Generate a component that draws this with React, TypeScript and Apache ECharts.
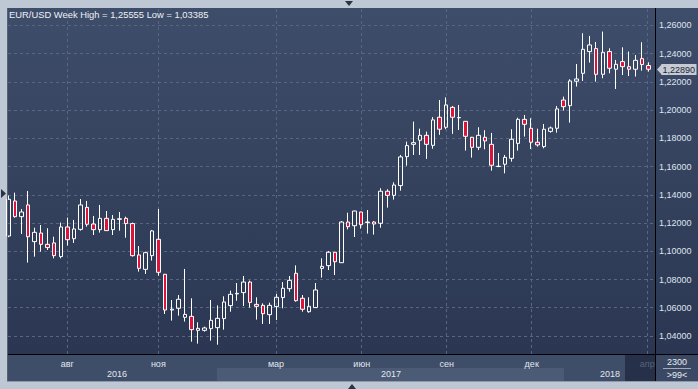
import React, { useEffect, useRef } from "react";
import * as echarts from "echarts";

const W = 698;
const H = 389;

// Weekly EUR/USD candles (index 0 = first, partly hidden week)
const opens = [
  1.1108, 1.1356, 1.1245, 1.1328, 1.1068, 1.1129, 1.1049, 1.1059, 1.0962, 1.1172,
  1.1089, 1.1155, 1.1311, 1.1193, 1.1153, 1.1233, 1.1153, 1.1226, 1.1233, 1.1196,
  1.0974, 1.0872, 1.0969, 1.1085, 1.0837, 1.0584, 1.0596, 1.0532, 1.0539, 1.0440,
  1.0440, 1.0452, 1.0459, 1.0523, 1.0615, 1.0698, 1.0707, 1.0782, 1.0624, 1.0617,
  1.0551, 1.0608, 1.0672, 1.0735, 1.0844, 1.0667, 1.0572, 1.0601, 1.0879, 1.0898,
  1.0993, 1.0919, 1.1207, 1.1181, 1.1278, 1.1203, 1.1207, 1.1198, 1.1425, 1.1396,
  1.1465, 1.1670, 1.1757, 1.1786, 1.1821, 1.1750, 1.1949, 1.1878, 1.2019, 1.1945,
  1.1920, 1.1807, 1.1736, 1.1807, 1.1757, 1.1600, 1.1616, 1.1658, 1.1764, 1.1934,
  1.1871, 1.1772, 1.1741, 1.1849, 1.1871, 1.2071, 1.2031, 1.2204, 1.2260, 1.2414,
  1.2435, 1.2253, 1.2414, 1.2289, 1.2343, 1.2307, 1.2289, 1.2364, 1.2315,
];
const closes = [
  1.1368, 1.1245, 1.1278, 1.1103, 1.1134, 1.1049, 1.1026, 1.0969, 1.1172, 1.1082,
  1.1158, 1.1328, 1.1191, 1.1153, 1.1233, 1.1146, 1.1226, 1.1230, 1.1196, 1.0969,
  1.0879, 1.0990, 1.1144, 1.0851, 1.0584, 1.0590, 1.0660, 1.0553, 1.0445, 1.0454,
  1.0457, 1.0511, 1.0525, 1.0641, 1.0695, 1.0702, 1.0782, 1.0638, 1.0610, 1.0558,
  1.0617, 1.0674, 1.0738, 1.0794, 1.0650, 1.0589, 1.0610, 1.0726, 1.0893, 1.0993,
  1.0926, 1.1207, 1.1174, 1.1285, 1.1188, 1.1207, 1.1193, 1.1425, 1.1396, 1.1469,
  1.1668, 1.1748, 1.1769, 1.1821, 1.1757, 1.1930, 1.1864, 1.2036, 1.1949, 1.1947,
  1.1814, 1.1736, 1.1821, 1.1781, 1.1609, 1.1602, 1.1665, 1.1793, 1.1934, 1.1899,
  1.1772, 1.1753, 1.1864, 1.1873, 1.2008, 1.2024, 1.2206, 1.2220, 1.2430, 1.2461,
  1.2253, 1.2409, 1.2296, 1.2324, 1.2307, 1.2289, 1.2352, 1.2322, 1.2289,
];
const lows = [
  1.1100, 1.1238, 1.1122, 1.0920, 1.0962, 1.0997, 1.1009, 1.0950, 1.0950, 1.1040,
  1.1059, 1.1146, 1.1174, 1.1115, 1.1132, 1.1144, 1.1115, 1.1146, 1.1096, 1.0962,
  1.0856, 1.0839, 1.0934, 1.0827, 1.0556, 1.0509, 1.0544, 1.0502, 1.0360, 1.0346,
  1.0431, 1.0367, 1.03385, 1.0445, 1.0572, 1.0650, 1.0612, 1.0601, 1.0516, 1.0485,
  1.0485, 1.0513, 1.0596, 1.0714, 1.0643, 1.0572, 1.0565, 1.0599, 1.0813, 1.0867,
  1.0832, 1.0917, 1.1155, 1.1101, 1.1160, 1.1125, 1.1118, 1.1167, 1.1309, 1.1366,
  1.1429, 1.1606, 1.1682, 1.1682, 1.1654, 1.1726, 1.1824, 1.1864, 1.1831, 1.1859,
  1.1713, 1.1663, 1.1717, 1.1722, 1.1571, 1.1595, 1.1552, 1.1635, 1.1713, 1.1812,
  1.1724, 1.1741, 1.1729, 1.1840, 1.1840, 1.1996, 1.1911, 1.2166, 1.2206, 1.2336,
  1.2201, 1.2225, 1.2260, 1.2149, 1.2248, 1.2241, 1.2237, 1.2279, 1.2272,
];
const highs = [
  1.1395, 1.1415, 1.1299, 1.1427, 1.1167, 1.1186, 1.1163, 1.1103, 1.1203, 1.1238,
  1.1222, 1.1370, 1.1356, 1.1250, 1.1328, 1.1285, 1.1257, 1.1278, 1.1245, 1.1203,
  1.1037, 1.0997, 1.1151, 1.1299, 1.0839, 1.0655, 1.0690, 1.0875, 1.0667, 1.0497,
  1.0466, 1.0655, 1.0617, 1.0681, 1.0721, 1.0775, 1.0825, 1.0792, 1.0674, 1.0631,
  1.0636, 1.0697, 1.0782, 1.0825, 1.0900, 1.0690, 1.0674, 1.0775, 1.0950, 1.1002,
  1.0995, 1.1214, 1.1273, 1.1287, 1.1280, 1.1292, 1.1214, 1.1446, 1.1439, 1.1488,
  1.1682, 1.1776, 1.1918, 1.1868, 1.1847, 1.1950, 1.2071, 1.2090, 1.2029, 1.2036,
  1.1922, 1.1810, 1.1878, 1.1857, 1.1838, 1.1696, 1.1682, 1.1864, 1.1946, 1.1965,
  1.1942, 1.1868, 1.1901, 1.1883, 1.2029, 1.2095, 1.2218, 1.2326, 1.2544, 1.2525,
  1.2482, 1.25555, 1.2437, 1.2355, 1.2444, 1.2414, 1.2390, 1.2480, 1.2338,
];

// Axis labels (positions in week-index units)
const monthTicks = [9.0, 22.94, 40.96, 54.09, 67.1, 80.12, 97.82];
const monthLabels = ["авг", "ноя", "мар", "июн", "сен", "дек", "апр"];
const yearTicks = [16.61, 58.57, 92.11];
const yearLabels = ["2016", "2017", "2018"];
const yearBandEdges = [-0.08, 31.9, 85.07, 94.41];

const weekHigh = 1.25555;
const weekLow = 1.03385;
const lastPrice = 1.2289;
const cornerTexts = ["2300", ">99<"];

const X_MIN = -0.08;
const X_MAX = 99.0;
const Y_MIN = 1.02725;
const Y_MAX = 1.27225;

const FONT = "Liberation Sans";
const fmt = (v: number) => v.toFixed(5).replace(".", ",");
const pick = (ticks: number[], labels: string[], v: number) => {
  let best = -1;
  let bd = 1e9;
  ticks.forEach((t, i) => {
    const d = Math.abs(t - v);
    if (d < bd) {
      bd = d;
      best = i;
    }
  });
  return bd < 0.05 ? labels[best] : "";
};

const candleData = opens.map((o, i) => [i, o, closes[i], lows[i], highs[i]]);

const option: any = {
  animation: false,
  backgroundColor: "transparent",
  title: {
    text: `EUR/USD Week High = ${fmt(weekHigh)} Low = ${fmt(weekLow)}`,
    left: 9,
    top: 10,
    padding: 0,
    textStyle: { color: "#eef1f6", fontSize: 9.4, fontWeight: "normal", fontFamily: FONT },
  },
  grid: { left: 8, top: 8, right: 43, bottom: 35, containLabel: false, outerBoundsMode: "none" },
  xAxis: [
    {
      type: "value",
      min: X_MIN,
      max: X_MAX,
      axisLine: { show: false },
      axisTick: { show: false, customValues: monthTicks },
      splitLine: { show: false },
      axisLabel: {
        customValues: monthTicks,
        margin: 5,
        fontSize: 9,
        fontFamily: FONT,
        hideOverlap: false,
        color: (v: number) => (pick(monthTicks, monthLabels, v) === "апр" ? "#56627b" : "#e2e7ee"),
        formatter: (v: number) => pick(monthTicks, monthLabels, v),
      },
    },
    {
      type: "value",
      min: X_MIN,
      max: X_MAX,
      position: "bottom",
      axisLine: { show: false },
      axisTick: { show: false, customValues: yearTicks },
      splitLine: { show: false },
      axisLabel: {
        customValues: yearTicks,
        margin: 15,
        fontSize: 9,
        fontFamily: FONT,
        hideOverlap: false,
        color: "#e2e7ee",
        formatter: (v: number) => pick(yearTicks, yearLabels, v),
      },
    },
  ],
  yAxis: {
    type: "value",
    position: "right",
    min: Y_MIN,
    max: Y_MAX,
    splitNumber: 12,
    minInterval: 0.02,
    maxInterval: 0.02,
    axisLine: { show: false },
    axisTick: { show: false },
    axisLabel: {
      margin: 4,
      fontSize: 9,
      fontFamily: FONT,
      color: "#dfe5ee",
      showMinLabel: false,
      showMaxLabel: false,
      formatter: (v: number) => fmt(v),
    },
    splitLine: {
      show: true,
      showMinLine: false,
      showMaxLine: false,
      lineStyle: { color: "#586681", type: [3, 3], width: 1 },
    },
  },
  series: [
    {
      type: "candlestick",
      xAxisIndex: 0,
      yAxisIndex: 0,
      data: candleData,
      encode: { x: 0, y: [1, 2, 3, 4] },
      barWidth: 4,
      clip: true,
      z: 2,
      itemStyle: {
        color: "rgba(0,0,0,0)",
        color0: "#dc143c",
        borderColor: "#ffffff",
        borderColor0: "#ffffff",
        borderWidth: 1,
      },
      markLine: {
        silent: true,
        z: 1,
        symbol: ["none", "none"],
        label: { show: false },
        lineStyle: { color: "#586681", type: [3, 3], width: 1 },
        emphasis: { disabled: true },
        data: monthTicks.map((t) => ({ xAxis: t })),
      },
    },
  ],
};

export default function App() {
  const ref = useRef<HTMLDivElement>(null);
  useEffect(() => {
    const el = ref.current!;
    const chart = echarts.init(el, null, { renderer: "svg", width: W, height: H });
    chart.setOption(option);
    const px = (v: number) => chart.convertToPixel({ xAxisIndex: 0 }, v) as number;
    const py = (v: number) => chart.convertToPixel({ yAxisIndex: 0 }, v) as number;
    const [, b1, b2, b3] = yearBandEdges.map(px);
    const pY = Math.round(py(lastPrice)) + 0.5;
    const txt = (x: number, y: number, text: string, fill: string, align = "center") => ({
      type: "text",
      x,
      y,
      z: 12,
      silent: true,
      style: {
        text,
        fill,
        font: `9px "${FONT}"`,
        align,
        textAlign: align,
        verticalAlign: "middle",
        textVerticalAlign: "middle",
      },
    });
    chart.setOption({
      graphic: {
        elements: [
          {
            type: "rect",
            z: -10,
            silent: true,
            shape: { x: 8, y: 8, width: 690, height: 346 },
            style: {
              fill: new echarts.graphic.LinearGradient(0, 0, 0, 1, [
                { offset: 0, color: "#3e4d6a" },
                { offset: 1, color: "#2b3752" },
              ]),
            },
          },
          { type: "rect", z: -10, silent: true, shape: { x: 8, y: 354, width: 690, height: 27 }, style: { fill: "#3e4d68" } },
          { type: "rect", z: -9, silent: true, shape: { x: b1, y: 368, width: b2 - b1, height: 13 }, style: { fill: "#4b5a75" } },
          { type: "rect", z: -9, silent: true, shape: { x: b3, y: 354, width: 655 - b3, height: 27 }, style: { fill: "#263049" } },
          { type: "rect", z: -9, silent: true, shape: { x: 655, y: 354, width: 43, height: 27 }, style: { fill: "#3a4864" } },
          { type: "line", z: 10, silent: true, shape: { x1: 8, y1: 354.5, x2: 698, y2: 354.5 }, style: { stroke: "#000000", lineWidth: 1 } },
          { type: "line", z: 10, silent: true, shape: { x1: 655.5, y1: 8, x2: 655.5, y2: 381 }, style: { stroke: "#000000", lineWidth: 1 } },
          { type: "line", z: 10, silent: true, shape: { x1: 7.5, y1: 8, x2: 7.5, y2: 382 }, style: { stroke: "#566175", lineWidth: 1 } },
          { type: "line", z: 10, silent: true, shape: { x1: 7, y1: 381.5, x2: 698, y2: 381.5 }, style: { stroke: "#8e99ab", lineWidth: 1 } },
          txt(677, 362, cornerTexts[0], "#e8ecf2"),
          { type: "line", z: 10, silent: true, shape: { x1: 663, y1: 368.5, x2: 691, y2: 368.5 }, style: { stroke: "#a3abba", lineWidth: 1 } },
          txt(677, 375, cornerTexts[1], "#e8ecf2"),
          { type: "polygon", z: 10, silent: true, shape: { points: [[345, 1], [353, 1], [349, 6]] }, style: { fill: "#2a3345" } },
          { type: "polygon", z: 10, silent: true, shape: { points: [[1, 189], [1, 198], [6, 193.5]] }, style: { fill: "#2a3345" } },
          { type: "polygon", z: 10, silent: true, shape: { points: [[348, 389], [356, 389], [352, 384]] }, style: { fill: "#2a3345" } },
          { type: "polygon", z: 11, silent: true, shape: { points: [[657, pY], [662, pY - 5.5], [662, pY + 5.5]] }, style: { fill: "#c6cbd3" } },
          { type: "rect", z: 11, silent: true, shape: { x: 661.5, y: pY - 5.5, width: 35, height: 11 }, style: { fill: "#c6cbd3" } },
          txt(662.5, pY, fmt(lastPrice), "#1c2538", "left"),
        ],
      },
    });
    return () => chart.dispose();
  }, []);
  return (
    <div
      ref={ref}
      style={{ position: "absolute", left: 0, top: 0, width: W, height: H, background: "#bec8d4" }}
    />
  );
}
